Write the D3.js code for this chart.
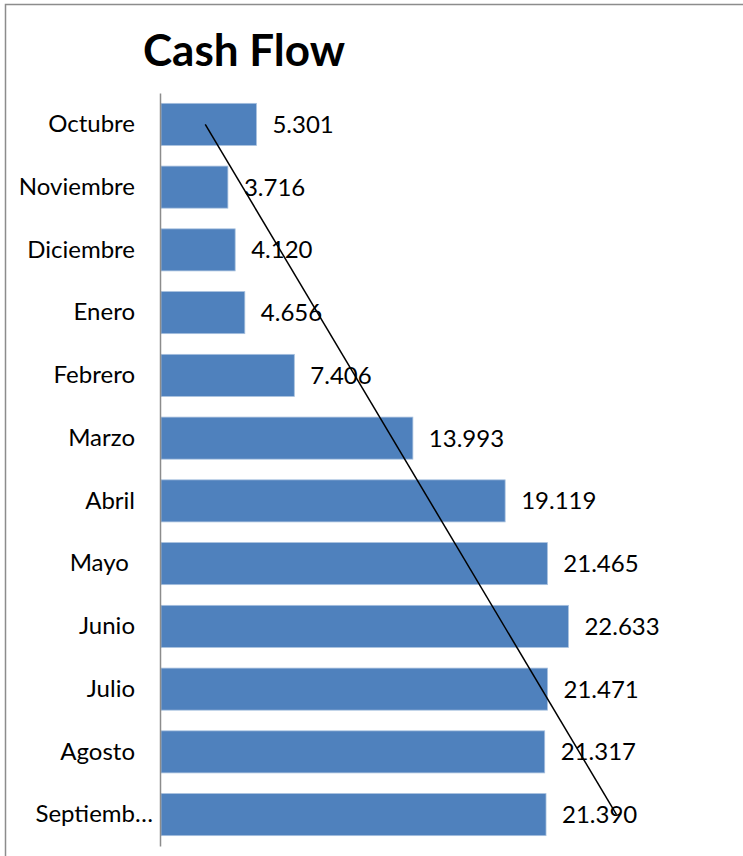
<!DOCTYPE html>
<html>
<head>
<meta charset="utf-8">
<script src="https://cdn.jsdelivr.net/npm/d3@7"></script>
<style>
  body { margin: 0; background: #fff; }
  svg text { font-family: Lato, "Open Sans", sans-serif; fill: #000; }
</style>
</head>
<body>
<div id="chart-area"></div>
<script>
const months = ["Octubre", "Noviembre", "Diciembre", "Enero", "Febrero", "Marzo",
    "Abril", "Mayo ", "Junio", "Julio", "Agosto", "Septiemb…"];
const cashFlow = [5.301, 3.716, 4.120, 4.656, 7.406, 13.993,
    19.119, 21.465, 22.633, 21.471, 21.317, 21.390];
const valueLabels = ["5.301", "3.716", "4.120", "4.656", "7.406", "13.993",
    "19.119", "21.465", "22.633", "21.471", "21.317", "21.390"];

const W = 743, H = 856;
const margin = { left: 160, top: 93, bottom: 10 };

const svg = d3.select("#chart-area")
    .append("svg")
    .attr("width", W)
    .attr("height", H);

// outer chart frame (right/bottom fall outside the picture)
svg.append("rect")
    .attr("x", 5.5).attr("y", 4.5)
    .attr("width", W + 20).attr("height", H + 20)
    .attr("fill", "none")
    .attr("stroke", "#8c8c8c")
    .attr("stroke-width", 1.5);

svg.append("text")
    .attr("x", 244)
    .attr("y", 66)
    .attr("text-anchor", "middle")
    .attr("font-size", "44px")
    .attr("font-weight", "bold")
    .text("Cash Flow");

const x = d3.scaleLinear()
    .domain([0, 25])
    .range([margin.left + 1, margin.left + 1 + 25 * 18]);

const y = d3.scaleBand()
    .domain(months)
    .range([margin.top, H - margin.bottom])
    .paddingInner(0.33)
    .paddingOuter(0.165);

const data = months.map((m, i) => ({ month: m, value: cashFlow[i], label: valueLabels[i] }));

g = svg.append("g");

g.selectAll("rect.bar")
    .data(data)
    .enter()
    .append("rect")
    .attr("class", "bar")
    .attr("x", x(0))
    .attr("y", d => y(d.month))
    .attr("width", d => x(d.value) - x(0))
    .attr("height", y.bandwidth())
    .attr("fill", "#4f81bd")
    .attr("stroke", "#a7c0de")
    .attr("stroke-width", 0.8);

const yAxis = d3.axisLeft(y)
    .tickSize(0)
    .tickPadding(25);

const ax = svg.append("g")
    .attr("transform", `translate(${margin.left}, 0)`)
    .call(yAxis);
ax.select(".domain")
    .attr("stroke", "#8c8c8c")
    .attr("stroke-width", 1.5);
ax.selectAll("text")
    .attr("font-size", "24px")
    .attr("font-weight", 400)
    .style("white-space", "pre")
    .attr("x", d => d.endsWith("…") ? -7 : -25);

g.selectAll("text.value")
    .data(data)
    .enter()
    .append("text")
    .attr("class", "value")
    .attr("x", d => x(d.value) + 16)
    .attr("y", d => y(d.month) + y.bandwidth() / 2)
    .attr("dy", "0.35em")
    .attr("font-size", "24px")
    .text(d => d.label);

// linear trend line (least squares over month index)
const n = cashFlow.length;
const xs = d3.range(1, n + 1);
const mx = d3.mean(xs), my = d3.mean(cashFlow);
const slope = d3.sum(xs, (k, i) => (k - mx) * (cashFlow[i] - my)) / d3.sum(xs, k => (k - mx) * (k - mx));
const icpt = my - slope * mx;

const trend = [
    { month: months[0], value: icpt + slope * 1 },
    { month: months[n - 1], value: icpt + slope * n }
];

g.append("path")
    .datum(trend)
    .attr("fill", "none")
    .attr("stroke", "#000")
    .attr("stroke-width", 1.5)
    .attr("d", d3.line()
        .x(d => x(d.value))
        .y(d => y(d.month) + y.bandwidth() / 2));
</script>
</body>
</html>
